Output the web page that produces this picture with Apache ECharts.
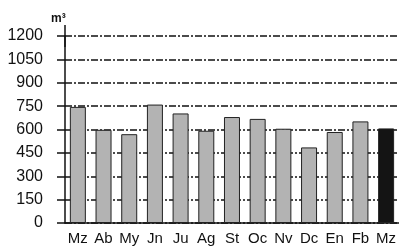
<!DOCTYPE html>
<html>
  <head>
    <meta charset="utf-8">
    <script src="https://cdn.jsdelivr.net/npm/echarts@6/dist/echarts.min.js"></script>
    <style>
      html, body { margin: 0; padding: 0; background: #fff; }
      #main { width: 399px; height: 247px; }
    </style>
  </head>
  <body>
    <div id="main"></div>
    <script>
      // meses (abreviados) y consumo en m3
      var months = ['Mz', 'Ab', 'My', 'Jn', 'Ju', 'Ag', 'St', 'Oc', 'Nv', 'Dc', 'En', 'Fb', 'Mz'];
      var consumo = [745, 598, 570, 760, 703, 592, 680, 668, 605, 485, 584, 652, 607];
      var yTicks = [0, 150, 300, 450, 600, 750, 900, 1050, 1200];

      var myChart = echarts.init(document.getElementById('main'));

      var option = {
          animation: false,
          backgroundColor: '#fff',
          title: {
              text: 'm³',
              left: 46,
              top: 8,
              textStyle: { fontSize: 12, fontWeight: 'bold', color: '#111', fontFamily: 'Liberation Sans' }
          },
          grid: {
              left: 65,
              right: -3,
              top: 36,
              bottom: 24
          },
          xAxis: {
              type: 'category',
              data: months,
              axisLine: { lineStyle: { color: '#111', width: 1.5 } },
              axisTick: { alignWithLabel: true, length: 7, lineStyle: { color: '#111', width: 1.5 } },
              axisLabel: {
                  interval: 0,
                  color: '#111',
                  fontSize: 15,
                  margin: 8,
                  fontFamily: 'Liberation Sans'
              }
          },
          yAxis: {
              type: 'value',
              min: yTicks[0],
              max: yTicks[yTicks.length - 1],
              interval: 150,
              axisLine: {
                  show: true,
                  symbol: ['none', 'rect'],
                  symbolSize: [1.5, 22],
                  lineStyle: { color: '#111', width: 1.5 }
              },
              axisTick: { show: true, length: 8, lineStyle: { color: '#111', width: 1.5 } },
              axisLabel: {
                  color: '#111',
                  fontSize: 16,
                  margin: 22,
                  fontFamily: 'Liberation Sans',
                  formatter: function (v) { return String(v); }
              },
              splitLine: {
                  show: true,
                  lineStyle: { color: '#111', width: 1.5, type: [7, 2, 2, 2] }
              }
          },
          series: [{
              type: 'bar',
              barWidth: 16,
              data: consumo.map(function (v, i) {
                  var last = i === consumo.length - 1;
                  return {
                      value: v,
                      itemStyle: {
                          color: last ? '#141414' : '#b3b3b3',
                          borderColor: '#222',
                          borderWidth: 1
                      }
                  };
              })
          }]
      };

      myChart.setOption(option);
    </script>
  </body>
</html>
